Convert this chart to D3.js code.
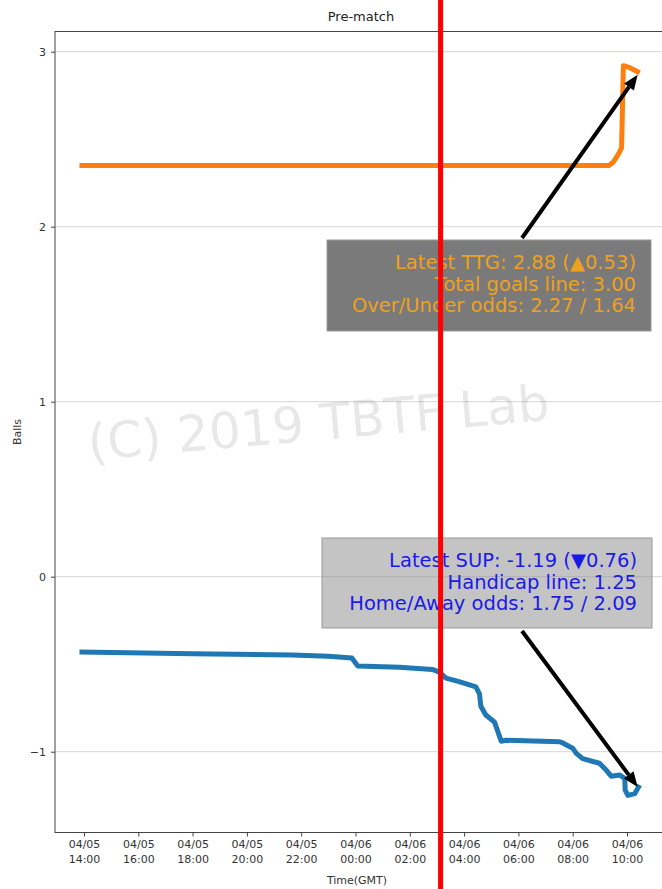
<!DOCTYPE html>
<html>
<head>
<meta charset="utf-8">
<script src="https://cdn.jsdelivr.net/npm/d3@7"></script>
<style>
  body { margin: 0; background: #fff; }
  text { font-family: "DejaVu Sans", sans-serif; }
</style>
</head>
<body>
<div id="chart"></div>
<script>
// SUP (blue) series
const supTimes = ["04/05 13:50", "04/05 18:00", "04/05 21:40", "04/05 23:00", "04/05 23:52", "04/06 00:05",
  "04/06 01:37", "04/06 02:50", "04/06 03:05", "04/06 03:20", "04/06 03:49", "04/06 04:26", "04/06 04:34",
  "04/06 04:37", "04/06 04:48", "04/06 05:07", "04/06 05:22", "04/06 05:33", "04/06 07:31", "04/06 07:38",
  "04/06 08:00", "04/06 08:08", "04/06 08:22", "04/06 08:59", "04/06 09:14", "04/06 09:25", "04/06 09:44",
  "04/06 09:55", "04/06 09:56", "04/06 10:02", "04/06 10:17", "04/06 10:28"];
const supValues = [-0.43, -0.44, -0.447, -0.455, -0.465, -0.51,
  -0.517, -0.53, -0.545, -0.58, -0.60, -0.63, -0.67,
  -0.74, -0.79, -0.83, -0.94, -0.935, -0.943, -0.95,
  -0.98, -1.01, -1.04, -1.066, -1.105, -1.14, -1.133,
  -1.152, -1.22, -1.25, -1.24, -1.19];

// TTG (orange) series
const ttgTimes = ["04/05 13:50", "04/06 09:20", "04/06 09:30", "04/06 09:40", "04/06 09:48", "04/06 09:52",
  "04/06 10:05", "04/06 10:28"];
const ttgValues = [2.35, 2.35, 2.37, 2.41, 2.45, 2.92, 2.91, 2.88];

const xTicks = ["04/05 14:00", "04/05 16:00", "04/05 18:00", "04/05 20:00", "04/05 22:00", "04/06 00:00",
  "04/06 02:00", "04/06 04:00", "04/06 06:00", "04/06 08:00", "04/06 10:00"];
const yTicks = [-1, 0, 1, 2, 3];

const ttgText = ["Latest TTG: 2.88 (\u25B20.53)", "Total goals line: 3.00", "Over/Under odds: 2.27 / 1.64"];
const supText = ["Latest SUP: -1.19 (\u25BC0.76)", "Handicap line: 1.25", "Home/Away odds: 1.75 / 2.09"];

const markTime = "04/06 03:08";

const width = 662, height = 889;
const plotLeft = 55, plotTop = 31.5, plotRight = 667, plotBottom = 832.5;

const parse = d3.utcParse("%Y/%m/%d %H:%M");
const t = s => parse("2019/" + s);

const svg = d3.select("#chart").append("svg")
  .attr("width", width).attr("height", height);

const x = d3.scaleUtc()
  .domain([t("04/05 14:00"), t("04/06 10:00")])
  .range([84, 627]);
const y = d3.scaleLinear()
  .domain([-1, 3])
  .range([751.7, 51.7]);

// gridlines
svg.append("g").selectAll("line")
  .data(yTicks).enter().append("line")
  .attr("x1", plotLeft).attr("x2", plotRight)
  .attr("y1", d => y(d)).attr("y2", d => y(d))
  .attr("stroke", "#d6d6d6").attr("stroke-width", 1);

// watermark
svg.append("text")
  .attr("x", 320).attr("y", 440)
  .attr("text-anchor", "middle")
  .attr("transform", "rotate(-5,320,440)")
  .attr("font-size", 50)
  .attr("fill", "#000").attr("fill-opacity", 0.09)
  .text("(C) 2019 TBTF Lab");

// frame
svg.append("rect")
  .attr("x", plotLeft).attr("y", plotTop)
  .attr("width", plotRight - plotLeft).attr("height", plotBottom - plotTop)
  .attr("fill", "none").attr("stroke", "#444").attr("stroke-width", 1);

// axes
const yAxis = svg.append("g")
  .attr("transform", `translate(${plotLeft},0)`)
  .call(d3.axisLeft(y).tickValues(yTicks).tickSize(4).tickPadding(5).tickFormat(d3.format("d")));
yAxis.select(".domain").remove();
yAxis.selectAll("text").attr("font-size", 11).attr("fill", "#333");
yAxis.selectAll("line").attr("stroke", "#444");

const xAxis = svg.append("g")
  .attr("transform", `translate(0,${plotBottom})`)
  .call(d3.axisBottom(x).tickValues(xTicks.map(t)).tickSize(4).tickPadding(4));
xAxis.select(".domain").remove();
xAxis.selectAll("line").attr("stroke", "#444");
xAxis.selectAll("text").each(function(d, i) {
  const parts = xTicks[i].split(" ");
  const el = d3.select(this).text(null).attr("font-size", 11).attr("fill", "#333");
  el.append("tspan").attr("x", 0).attr("dy", "0.71em").text(parts[0]);
  el.append("tspan").attr("x", 0).attr("dy", "1.3em").text(parts[1]);
});

// labels
svg.append("text").attr("x", 361).attr("y", 21).attr("text-anchor", "middle")
  .attr("font-size", 13).attr("fill", "#222").text("Pre-match");
svg.append("text").attr("x", 357).attr("y", 884).attr("text-anchor", "middle")
  .attr("font-size", 11).attr("fill", "#333").text("Time(GMT)");
svg.append("text").attr("transform", `translate(21,${(plotTop + plotBottom) / 2}) rotate(-90)`)
  .attr("text-anchor", "middle").attr("font-size", 11).attr("fill", "#333").text("Balls");

// lines
const line = d3.line().x(d => x(d.t)).y(d => y(d.v));
const supData = supTimes.map((s, i) => ({ t: t(s), v: supValues[i] }));
const ttgData = ttgTimes.map((s, i) => ({ t: t(s), v: ttgValues[i] }));

svg.append("path").datum(ttgData).attr("d", line)
  .attr("fill", "none").attr("stroke", "#ff7f0e").attr("stroke-width", 5)
  .attr("stroke-linejoin", "round");
svg.append("path").datum(supData).attr("d", line)
  .attr("fill", "none").attr("stroke", "#1f77b4").attr("stroke-width", 5)
  .attr("stroke-linejoin", "round");

// annotations
function arrow(x1, y1, x2, y2) {
  const a = Math.atan2(y2 - y1, x2 - x1), len = 15, w = 6;
  const bx = x2 - len * Math.cos(a), by = y2 - len * Math.sin(a);
  svg.append("line").attr("x1", x1).attr("y1", y1).attr("x2", bx).attr("y2", by)
    .attr("stroke", "#000").attr("stroke-width", 4);
  svg.append("polygon")
    .attr("points", [[x2, y2],
      [bx + w * Math.sin(a), by - w * Math.cos(a)],
      [bx - w * Math.sin(a), by + w * Math.cos(a)]].map(p => p.join(",")).join(" "))
    .attr("fill", "#000");
}

function box(lines, bx, by, bw, bh, fill, fillOpacity, color) {
  svg.append("rect").attr("x", bx).attr("y", by).attr("width", bw).attr("height", bh)
    .attr("fill", fill).attr("fill-opacity", fillOpacity)
    .attr("stroke", "#999").attr("stroke-width", 1);
  svg.append("g").selectAll("text").data(lines).enter().append("text")
    .attr("x", bx + bw - 15).attr("y", (d, i) => by + 29 + i * 21.5)
    .attr("text-anchor", "end").attr("font-size", 19.5).attr("fill", color)
    .text(d => d);
}

const ttgEnd = ttgData[ttgData.length - 1];
const supEnd = supData[supData.length - 1];

box(ttgText, 327, 240, 324, 91, "#7a7a7a", 1, "#f0a020");
arrow(522, 238, x(ttgEnd.t) - 2, y(ttgEnd.v) + 2);

box(supText, 322, 538, 330, 90, "#8a8a8a", 0.5, "#1a1ae8");
arrow(522, 631, x(supEnd.t) - 2, y(supEnd.v) + 2);

// red marker
svg.append("rect").attr("x", x(t(markTime)) - 2.5).attr("y", 0)
  .attr("width", 5).attr("height", height).attr("fill", "#ff0000");
</script>
</body>
</html>
